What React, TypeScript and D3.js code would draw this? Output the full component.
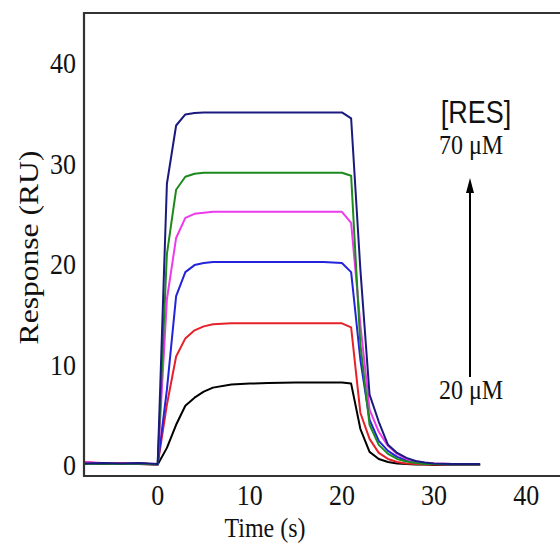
import React from "react";
import * as d3 from "d3";

const times = [-8, -6, -4, -2, 0, 1, 2, 3, 4, 5, 6, 8, 10, 12, 15, 18, 20, 21, 22, 23, 24, 25, 26, 27, 28, 29, 30, 32, 35];

const black20 = [0.2, 0.1, 0.15, 0.1, 0.05, 1.7, 4.0, 5.9, 6.7, 7.3, 7.7, 8.0, 8.1, 8.15, 8.2, 8.2, 8.2, 8.1, 3.6, 1.3, 0.6, 0.3, 0.15, 0.1, 0.05, 0.05, 0.0, 0.0, 0.0];
const red = [0.3, 0.15, 0.2, 0.1, 0.05, 6.0, 10.8, 12.6, 13.4, 13.8, 14.0, 14.1, 14.1, 14.1, 14.1, 14.1, 14.1, 13.7, 5.2, 2.6, 1.2, 0.6, 0.3, 0.15, 0.1, 0.05, 0.05, 0.0, 0.0];
const blue = [0.15, 0.2, 0.1, 0.15, 0.05, 7.5, 16.8, 19.2, 19.9, 20.1, 20.2, 20.2, 20.2, 20.2, 20.2, 20.2, 20.1, 19.2, 10.5, 4.5, 2.4, 1.4, 0.8, 0.45, 0.25, 0.15, 0.1, 0.05, 0.05];
const magenta = [0.3, 0.2, 0.15, 0.2, 0.05, 16.5, 22.6, 24.6, 25.0, 25.1, 25.2, 25.2, 25.2, 25.2, 25.2, 25.2, 25.2, 24.1, 14.0, 5.5, 3.3, 1.9, 1.1, 0.6, 0.35, 0.2, 0.15, 0.1, 0.1];
const green = [0.1, 0.15, 0.1, 0.15, 0.05, 21.0, 27.4, 28.7, 29.0, 29.1, 29.1, 29.1, 29.1, 29.1, 29.1, 29.1, 29.1, 28.8, 12.0, 4.0, 2.0, 1.1, 0.6, 0.35, 0.2, 0.1, 0.1, 0.05, 0.05];
const navy70 = [0.15, 0.2, 0.15, 0.2, 0.1, 28.0, 33.8, 34.9, 35.05, 35.1, 35.1, 35.1, 35.1, 35.1, 35.1, 35.1, 35.1, 34.5, 19.5, 7.0, 4.3, 2.0, 1.2, 0.7, 0.4, 0.25, 0.15, 0.1, 0.1];

const seriesList = [
  { name: "20 μM", values: black20, color: "#000000" },
  { name: "30 μM", values: red, color: "#e8202a" },
  { name: "40 μM", values: blue, color: "#2323dc" },
  { name: "50 μM", values: magenta, color: "#ec3aec" },
  { name: "60 μM", values: green, color: "#1d8a1d" },
  { name: "70 μM", values: navy70, color: "#1a1a7e" },
];

const xTicks = [0, 10, 20, 30, 40];
const yTicks = [0, 10, 20, 30, 40];

export default function App() {
  const W = 560, H = 547;
  const left = 84, top = 13, bottom = 476, right = 563;
  const x = d3.scaleLinear().domain([-8, 44]).range([left, right]);
  const y = d3.scaleLinear().domain([-1.1, 45]).range([bottom, top]);
  const line = d3.line<[number, number]>().x((d) => x(d[0])).y((d) => y(d[1]));
  const serif = "'Liberation Serif', 'Times New Roman', serif";
  const sans = "'Liberation Sans', Arial, sans-serif";
  const arrowX = 470;
  const sy = 1.15;
  const T = (px: number, py: number, content: string, opts: any = {}) => (
    <text
      transform={`translate(${px},${py}) scale(1,${sy})`}
      textAnchor={opts.anchor || "middle"}
      fontFamily={opts.font || serif}
      fontSize={opts.size || 26}
      fill="#111"
    >
      {content}
    </text>
  );
  return (
    <svg width={W} height={H} style={{ position: "absolute", left: 0, top: 0, background: "#fff" }}>
      <defs>
        <clipPath id="plot">
          <rect x={left} y={top} width={right - left} height={bottom - top} />
        </clipPath>
      </defs>
      <g clipPath="url(#plot)">
        {seriesList.map((s) => (
          <path
            key={s.name}
            d={line(times.map((t, i) => [t, s.values[i]] as [number, number])) || ""}
            fill="none"
            stroke={s.color}
            strokeWidth={2}
            strokeLinejoin="round"
          />
        ))}
      </g>
      <path d={`M${right},${top} L${left},${top} L${left},${bottom} L${right},${bottom}`} fill="none" stroke="#333" strokeWidth={2.2} />
      {yTicks.map((t) => (
        <g key={"y" + t}>{T(76, y(t) + 10, String(t), { anchor: "end" })}</g>
      ))}
      {xTicks.map((t) => (
        <g key={"x" + t}>{T(x(t), 505, String(t))}</g>
      ))}
      {T(265, 537, "Time (s)", { size: 24 })}
      <text transform={`translate(38,${(top + bottom) / 2 + 3}) rotate(-90) scale(1.17,1)`} textAnchor="middle" fontFamily={serif} fontSize={27} fill="#111">Response (RU)</text>
      {T(476, 123, "[RES]", { font: sans, size: 27 })}
      {T(471, 154, "70 μM", { size: 24 })}
      {T(471, 399, "20 μM", { size: 24 })}
      <line x1={arrowX} x2={arrowX} y1={377} y2={190} stroke="#000" strokeWidth={2} />
      <path d={`M${arrowX},178 L${arrowX + 4},193 L${arrowX - 4},193 Z`} fill="#000" />
    </svg>
  );
}
